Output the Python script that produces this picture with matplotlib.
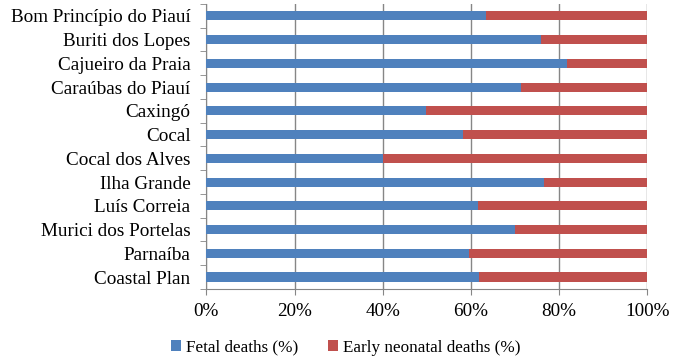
import numpy as np
import matplotlib
matplotlib.use("Agg")
import matplotlib.pyplot as plt
from matplotlib.ticker import FuncFormatter

plt.rcParams.update({"font.family": ["Liberation Serif", "DejaVu Serif"], "font.size": 13.8})
BLUE, RED, GRID = "#4F81BD", "#C0504D", "#868686"

places = ["Bom Princípio do Piauí", "Buriti dos Lopes", "Cajueiro da Praia", "Caraúbas do Piauí",
          "Caxingó", "Cocal", "Cocal dos Alves", "Ilha Grande", "Luís Correia",
          "Murici dos Portelas", "Parnaíba", "Coastal Plan"]
fetal = [63.5, 76.0, 81.9, 71.5, 49.9, 58.3, 40.0, 76.5, 61.6, 70.1, 59.7, 61.9]
neonatal = [100 - f for f in fetal]

fig = plt.figure(figsize=(6.79, 3.62), dpi=100)
ax = fig.add_axes([0.304, 0.202, 0.649, 0.787])
y = np.arange(len(places))
ax.barh(y, fetal, height=0.38, color=BLUE, label="Fetal deaths (%)", zorder=3)
ax.barh(y, neonatal, left=fetal, height=0.38, color=RED, label="Early neonatal deaths (%)", zorder=3)

ax.set_xlim(0, 100); ax.set_ylim(len(places) - 0.5, -0.5)
ax.set_xticks([0, 20, 40, 60, 80, 100])
ax.xaxis.set_major_formatter(FuncFormatter(lambda v, p: f"{v:.0f}%"))
ax.set_yticks(y); ax.set_yticklabels(places)
ax.set_yticks(np.arange(-0.5, len(places)), minor=True)
ax.tick_params(axis="y", which="major", length=0, pad=11.5)
ax.tick_params(axis="y", which="minor", length=4, color=GRID, direction="out")
ax.tick_params(axis="x", length=4, color=GRID, pad=6)
ax.grid(axis="x", color=GRID, lw=1, zorder=0)
for s in ["top", "right"]: ax.spines[s].set_visible(False)
for s in ["left", "bottom"]: ax.spines[s].set_color(GRID)

ax.legend(loc="upper center", bbox_to_anchor=(0.316, -0.125), ncol=2, frameon=False, fontsize=12.3,
          handlelength=0.6, handleheight=0.6, handletextpad=0.3, columnspacing=1.7)
fig.savefig("out.png", dpi=100)
